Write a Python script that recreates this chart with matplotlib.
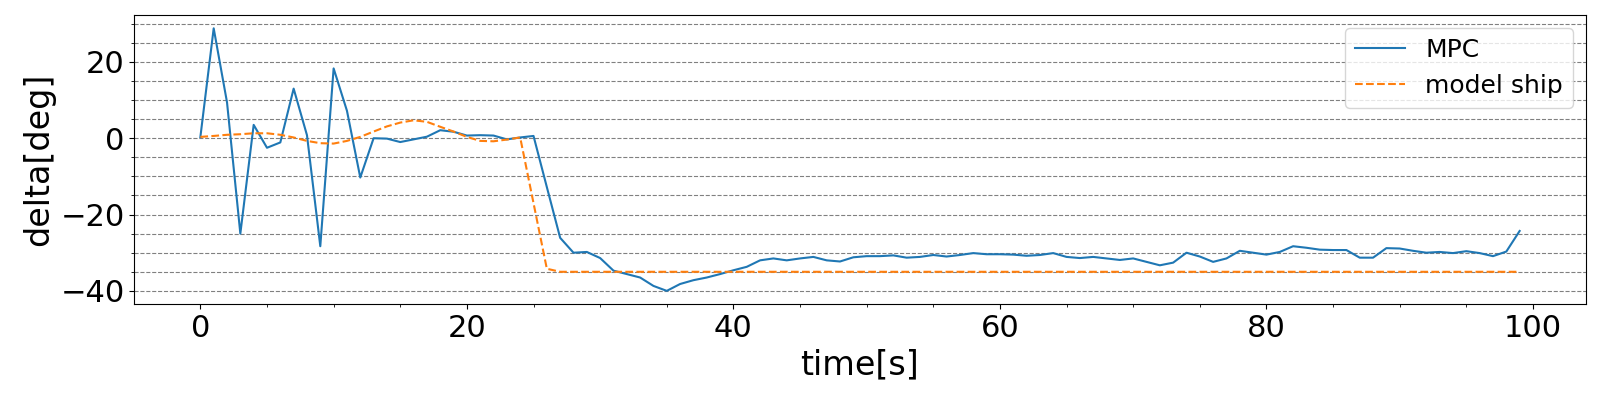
import matplotlib
matplotlib.use("Agg")
import matplotlib.pyplot as plt
import numpy as np

time = list(range(100))

mpc = [0.3, 28.8, 9.4, -25.0, 3.5, -2.5, -1.1, 13.0, 0.8, -28.3,
       18.3, 7.2, -10.3, 0.0, -0.1, -1.0, -0.3, 0.4, 2.1, 1.7,
       0.7, 0.8, 0.7, -0.3, 0.2, 0.6, -12.8, -26.1, -30.0, -29.8,
       -31.4, -34.7, -35.6, -36.5, -38.7, -40.0, -38.2, -37.2, -36.5, -35.6,
       -34.6, -33.7, -32.0, -31.5, -32.0, -31.5, -31.1, -32.0, -32.3, -31.2,
       -30.9, -30.9, -30.7, -31.3, -31.1, -30.6, -31.0, -30.6, -30.1, -30.4,
       -30.4, -30.5, -30.8, -30.6, -30.1, -31.1, -31.4, -31.1, -31.5, -31.9,
       -31.5, -32.4, -33.3, -32.6, -30.0, -31.0, -32.4, -31.5, -29.5, -30.0,
       -30.5, -29.8, -28.3, -28.7, -29.2, -29.3, -29.3, -31.3, -31.3, -28.8,
       -28.9, -29.5, -30.0, -29.8, -30.1, -29.6, -30.1, -30.9, -29.7, -24.3]

model_ship = [0.35, 0.6, 0.9, 1.05, 1.3, 1.3, 0.9, 0.2, -0.7, -1.3,
              -1.4, -0.7, 0.35, 1.75, 3.1, 4.1, 4.7, 4.3, 3.0, 1.75,
              0.35, -0.7, -0.8, -0.35, 0.2, -17.0, -34.2] + [-35.0] * 73

fig = plt.figure(figsize=(16, 4), dpi=100)
ax = fig.add_axes([0.084, 0.24, 0.907, 0.722])
ax.plot(time, mpc, color="#1f77b4", linewidth=1.5, label="MPC")
ax.plot(time, model_ship, color="#ff7f0e", linestyle="--", linewidth=1.5, label="model ship")
ax.minorticks_on()
ax.grid(which="both", axis="y", linestyle="--", color="gray", linewidth=0.8)
ax.tick_params(axis="both", which="major", labelsize=22)
ax.set_xlabel("time[s]", fontsize=24)
ax.set_ylabel("delta[deg]", fontsize=24)
ax.legend(loc="upper right", fontsize=18)
fig.savefig("out.png", dpi=100)
